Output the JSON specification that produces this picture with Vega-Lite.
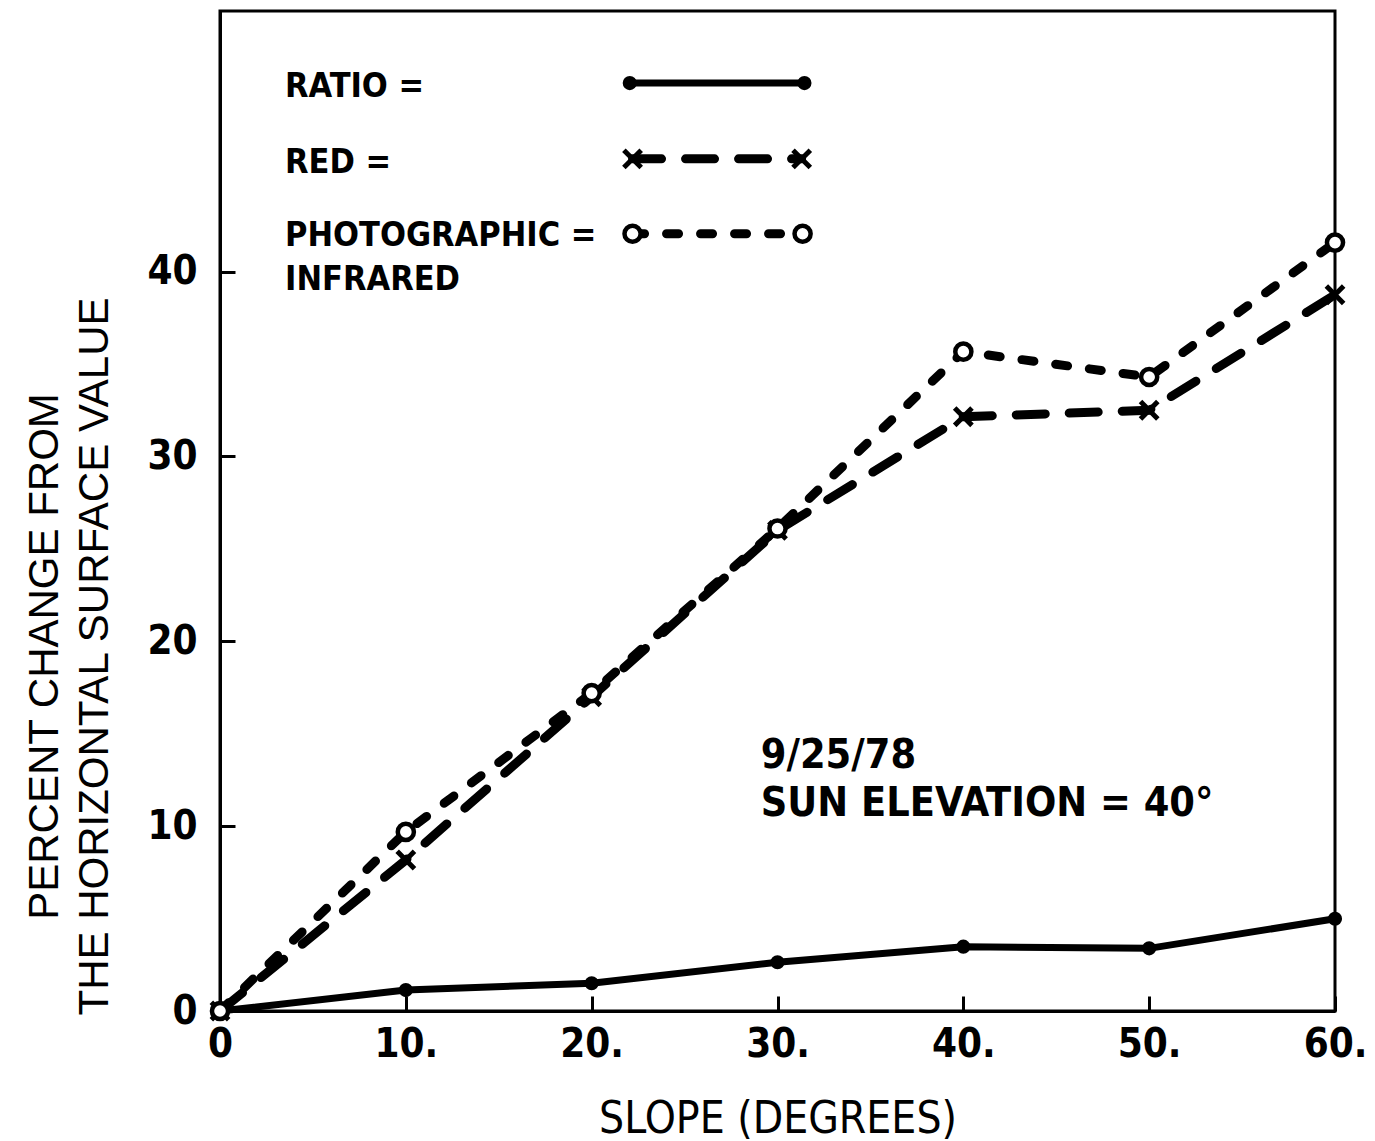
{
  "$schema": "https://vega.github.io/schema/vega-lite/v6.json",
  "width": 1115,
  "height": 1000,
  "autosize": {"type": "none"},
  "padding": {"left": 220, "top": 11, "right": 40, "bottom": 130},
  "background": "white",
  "config": {
    "view": {"stroke": "black", "strokeWidth": 3},
    "axis": {
      "domainColor": "black", "domainWidth": 3,
      "tickColor": "black", "tickWidth": 3, "tickSize": -15,
      "grid": false,
      "labelFont": "DejaVu Sans Condensed, Liberation Sans", "labelFontWeight": "bold", "labelFontSize": 40, "labelColor": "black",
      "titleFont": "Liberation Sans", "titleFontWeight": "normal", "titleColor": "black"
    }
  },
  "datasets": {
    "series": [
      {"series": "RATIO", "group": "data", "slope": 0, "pct": 0},
      {"series": "RATIO", "group": "data", "slope": 10, "pct": 1.13},
      {"series": "RATIO", "group": "data", "slope": 20, "pct": 1.5},
      {"series": "RATIO", "group": "data", "slope": 30, "pct": 2.64},
      {"series": "RATIO", "group": "data", "slope": 40, "pct": 3.48},
      {"series": "RATIO", "group": "data", "slope": 50, "pct": 3.39},
      {"series": "RATIO", "group": "data", "slope": 60, "pct": 4.99},
      {"series": "RED", "group": "data", "slope": 0, "pct": 0},
      {"series": "RED", "group": "data", "slope": 10, "pct": 8.17},
      {"series": "RED", "group": "data", "slope": 20, "pct": 17.0},
      {"series": "RED", "group": "data", "slope": 30, "pct": 26.0},
      {"series": "RED", "group": "data", "slope": 40, "pct": 32.15},
      {"series": "RED", "group": "data", "slope": 50, "pct": 32.5},
      {"series": "RED", "group": "data", "slope": 60, "pct": 38.75},
      {"series": "IR", "group": "data", "slope": 0, "pct": 0},
      {"series": "IR", "group": "data", "slope": 10, "pct": 9.69},
      {"series": "IR", "group": "data", "slope": 20, "pct": 17.2},
      {"series": "IR", "group": "data", "slope": 30, "pct": 26.1},
      {"series": "IR", "group": "data", "slope": 40, "pct": 35.67},
      {"series": "IR", "group": "data", "slope": 50, "pct": 34.3},
      {"series": "IR", "group": "data", "slope": 60, "pct": 41.57},
      {"series": "RATIO", "group": "legend", "slope": 22.05, "pct": 50.2},
      {"series": "RATIO", "group": "legend", "slope": 31.45, "pct": 50.2},
      {"series": "RED", "group": "legend", "slope": 22.2, "pct": 46.1},
      {"series": "RED", "group": "legend", "slope": 31.3, "pct": 46.1},
      {"series": "IR", "group": "legend", "slope": 22.2, "pct": 42.05},
      {"series": "IR", "group": "legend", "slope": 31.35, "pct": 42.05}
    ],
    "legendText": [
      {"text": "RATIO =", "slope": 3.5, "pct": 50.0},
      {"text": "RED =", "slope": 3.5, "pct": 45.85},
      {"text": "PHOTOGRAPHIC =", "slope": 3.5, "pct": 41.95},
      {"text": "INFRARED", "slope": 3.5, "pct": 39.55}
    ],
    "note": [
      {"text": "9/25/78", "slope": 29.1, "pct": 13.8},
      {"text": "SUN ELEVATION = 40°", "slope": 29.1, "pct": 11.2}
    ]
  },
  "encoding": {
    "x": {
      "field": "slope", "type": "quantitative",
      "scale": {"domain": [0, 60], "nice": false, "zero": false},
      "axis": {
        "values": [0, 10, 20, 30, 40, 50, 60],
        "labelExpr": "datum.value == 0 ? '0' : datum.value + '.'",
        "labelPadding": 28,
        "labelFlush": false,
        "labelBound": false,
        "title": "SLOPE (DEGREES)",
        "titleFont": "DejaVu Sans Condensed, Liberation Sans",
        "titleFontSize": 44,
        "titleY": 108, "titleBaseline": "middle"
      }
    },
    "y": {
      "field": "pct", "type": "quantitative",
      "scale": {"domain": [0, 54.1], "nice": false, "zero": false},
      "axis": {
        "values": [0, 10, 20, 30, 40],
        "labelPadding": 38,
        "labelFlush": false,
        "labelBound": false,
        "title": ["PERCENT CHANGE FROM", "THE HORIZONTAL SURFACE VALUE"],
        "titleFontSize": 42,
        "titleLineHeight": 50,
        "titleAngle": 270,
        "titleAlign": "center",
        "titleBaseline": "top",
        "titleX": -196,
        "titleY": 645
      }
    }
  },
  "layer": [
    {
      "data": {"name": "series"},
      "transform": [{"filter": "datum.series == 'RATIO'"}],
      "mark": {"type": "line", "color": "black", "strokeWidth": 7, "strokeCap": "round"},
      "encoding": {"detail": {"field": "group"}}
    },
    {
      "data": {"name": "series"},
      "transform": [{"filter": "datum.series == 'RED'"}],
      "mark": {"type": "line", "color": "black", "strokeWidth": 9, "strokeCap": "round", "strokeDash": [29, 24]},
      "encoding": {"detail": {"field": "group"}}
    },
    {
      "data": {"name": "series"},
      "transform": [{"filter": "datum.series == 'IR'"}],
      "mark": {"type": "line", "color": "black", "strokeWidth": 9, "strokeCap": "round", "strokeDash": [12, 22]},
      "encoding": {"detail": {"field": "group"}}
    },
    {
      "data": {"name": "series"},
      "transform": [{"filter": "datum.series == 'RATIO'"}],
      "mark": {"type": "point", "shape": "circle", "filled": true, "color": "black", "size": 200, "opacity": 1}
    },
    {
      "data": {"name": "series"},
      "transform": [{"filter": "datum.series == 'RED'"}],
      "mark": {"type": "point", "shape": "M-1,-1L1,1M-1,1L1,-1", "filled": false, "color": "black", "strokeWidth": 5, "size": 300, "opacity": 1}
    },
    {
      "data": {"name": "series"},
      "transform": [{"filter": "datum.series == 'IR'"}],
      "mark": {"type": "point", "shape": "circle", "filled": false, "fill": "white", "fillOpacity": 1, "stroke": "black", "strokeWidth": 4.5, "size": 260, "opacity": 1}
    },
    {
      "data": {"name": "legendText"},
      "mark": {"type": "text", "align": "left", "baseline": "middle", "font": "DejaVu Sans Condensed, Liberation Sans", "fontWeight": "bold", "fontSize": 34, "color": "black"},
      "encoding": {"text": {"field": "text"}}
    },
    {
      "data": {"name": "note"},
      "mark": {"type": "text", "align": "left", "baseline": "middle", "font": "DejaVu Sans Condensed, Liberation Sans", "fontWeight": "bold", "fontSize": 41, "color": "black"},
      "encoding": {"text": {"field": "text"}}
    }
  ]
}
